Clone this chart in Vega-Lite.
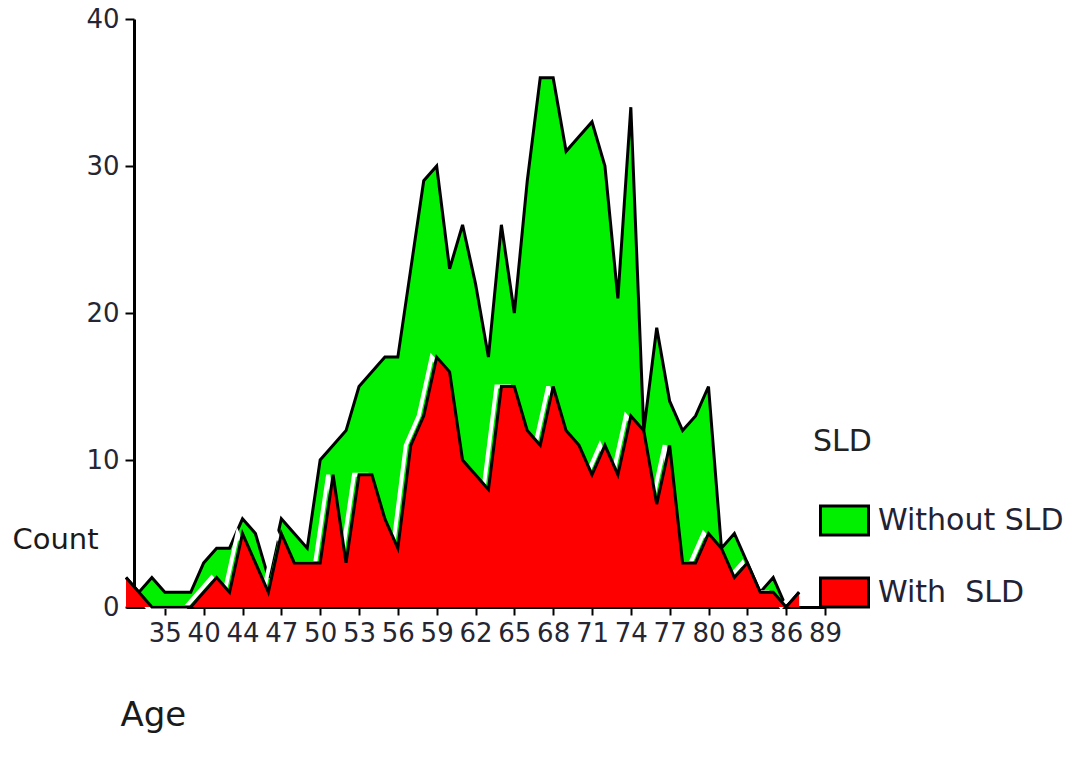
{
  "$schema": "https://vega.github.io/schema/vega-lite/v6.json",
  "autosize": {"type": "none"},
  "padding": {"left": 126, "top": 19, "right": 247, "bottom": 154},
  "width": 699,
  "height": 588,
  "background": "white",
  "config": {"view": {"stroke": null}, "font": "DejaVu Sans"},
  "data": {"values": [
    {"Age": 32, "SLD": "Without SLD", "Count": 2}, {"Age": 32, "SLD": "With SLD", "Count": 2},
    {"Age": 33, "SLD": "Without SLD", "Count": 1}, {"Age": 33, "SLD": "With SLD", "Count": 1},
    {"Age": 34, "SLD": "Without SLD", "Count": 2}, {"Age": 34, "SLD": "With SLD", "Count": 0},
    {"Age": 35, "SLD": "Without SLD", "Count": 1}, {"Age": 35, "SLD": "With SLD", "Count": 0},
    {"Age": 37, "SLD": "Without SLD", "Count": 1}, {"Age": 37, "SLD": "With SLD", "Count": 0},
    {"Age": 38, "SLD": "Without SLD", "Count": 1}, {"Age": 38, "SLD": "With SLD", "Count": 0},
    {"Age": 40, "SLD": "Without SLD", "Count": 3}, {"Age": 40, "SLD": "With SLD", "Count": 1},
    {"Age": 41, "SLD": "Without SLD", "Count": 4}, {"Age": 41, "SLD": "With SLD", "Count": 2},
    {"Age": 43, "SLD": "Without SLD", "Count": 4}, {"Age": 43, "SLD": "With SLD", "Count": 1},
    {"Age": 44, "SLD": "Without SLD", "Count": 6}, {"Age": 44, "SLD": "With SLD", "Count": 5},
    {"Age": 45, "SLD": "Without SLD", "Count": 5}, {"Age": 45, "SLD": "With SLD", "Count": 3},
    {"Age": 46, "SLD": "Without SLD", "Count": 2}, {"Age": 46, "SLD": "With SLD", "Count": 1},
    {"Age": 47, "SLD": "Without SLD", "Count": 6}, {"Age": 47, "SLD": "With SLD", "Count": 5},
    {"Age": 48, "SLD": "Without SLD", "Count": 5}, {"Age": 48, "SLD": "With SLD", "Count": 3},
    {"Age": 49, "SLD": "Without SLD", "Count": 4}, {"Age": 49, "SLD": "With SLD", "Count": 3},
    {"Age": 50, "SLD": "Without SLD", "Count": 10}, {"Age": 50, "SLD": "With SLD", "Count": 3},
    {"Age": 51, "SLD": "Without SLD", "Count": 11}, {"Age": 51, "SLD": "With SLD", "Count": 9},
    {"Age": 52, "SLD": "Without SLD", "Count": 12}, {"Age": 52, "SLD": "With SLD", "Count": 3},
    {"Age": 53, "SLD": "Without SLD", "Count": 15}, {"Age": 53, "SLD": "With SLD", "Count": 9},
    {"Age": 54, "SLD": "Without SLD", "Count": 16}, {"Age": 54, "SLD": "With SLD", "Count": 9},
    {"Age": 55, "SLD": "Without SLD", "Count": 17}, {"Age": 55, "SLD": "With SLD", "Count": 6},
    {"Age": 56, "SLD": "Without SLD", "Count": 17}, {"Age": 56, "SLD": "With SLD", "Count": 4},
    {"Age": 57, "SLD": "Without SLD", "Count": 23}, {"Age": 57, "SLD": "With SLD", "Count": 11},
    {"Age": 58, "SLD": "Without SLD", "Count": 29}, {"Age": 58, "SLD": "With SLD", "Count": 13},
    {"Age": 59, "SLD": "Without SLD", "Count": 30}, {"Age": 59, "SLD": "With SLD", "Count": 17},
    {"Age": 60, "SLD": "Without SLD", "Count": 23}, {"Age": 60, "SLD": "With SLD", "Count": 16},
    {"Age": 61, "SLD": "Without SLD", "Count": 26}, {"Age": 61, "SLD": "With SLD", "Count": 10},
    {"Age": 62, "SLD": "Without SLD", "Count": 22}, {"Age": 62, "SLD": "With SLD", "Count": 9},
    {"Age": 63, "SLD": "Without SLD", "Count": 17}, {"Age": 63, "SLD": "With SLD", "Count": 8},
    {"Age": 64, "SLD": "Without SLD", "Count": 26}, {"Age": 64, "SLD": "With SLD", "Count": 15},
    {"Age": 65, "SLD": "Without SLD", "Count": 20}, {"Age": 65, "SLD": "With SLD", "Count": 15},
    {"Age": 66, "SLD": "Without SLD", "Count": 29}, {"Age": 66, "SLD": "With SLD", "Count": 12},
    {"Age": 67, "SLD": "Without SLD", "Count": 36}, {"Age": 67, "SLD": "With SLD", "Count": 11},
    {"Age": 68, "SLD": "Without SLD", "Count": 36}, {"Age": 68, "SLD": "With SLD", "Count": 15},
    {"Age": 69, "SLD": "Without SLD", "Count": 31}, {"Age": 69, "SLD": "With SLD", "Count": 12},
    {"Age": 70, "SLD": "Without SLD", "Count": 32}, {"Age": 70, "SLD": "With SLD", "Count": 11},
    {"Age": 71, "SLD": "Without SLD", "Count": 33}, {"Age": 71, "SLD": "With SLD", "Count": 9},
    {"Age": 72, "SLD": "Without SLD", "Count": 30}, {"Age": 72, "SLD": "With SLD", "Count": 11},
    {"Age": 73, "SLD": "Without SLD", "Count": 21}, {"Age": 73, "SLD": "With SLD", "Count": 9},
    {"Age": 74, "SLD": "Without SLD", "Count": 34}, {"Age": 74, "SLD": "With SLD", "Count": 13},
    {"Age": 75, "SLD": "Without SLD", "Count": 12}, {"Age": 75, "SLD": "With SLD", "Count": 12},
    {"Age": 76, "SLD": "Without SLD", "Count": 19}, {"Age": 76, "SLD": "With SLD", "Count": 7},
    {"Age": 77, "SLD": "Without SLD", "Count": 14}, {"Age": 77, "SLD": "With SLD", "Count": 11},
    {"Age": 78, "SLD": "Without SLD", "Count": 12}, {"Age": 78, "SLD": "With SLD", "Count": 3},
    {"Age": 79, "SLD": "Without SLD", "Count": 13}, {"Age": 79, "SLD": "With SLD", "Count": 3},
    {"Age": 80, "SLD": "Without SLD", "Count": 15}, {"Age": 80, "SLD": "With SLD", "Count": 5},
    {"Age": 81, "SLD": "Without SLD", "Count": 4}, {"Age": 81, "SLD": "With SLD", "Count": 4},
    {"Age": 82, "SLD": "Without SLD", "Count": 5}, {"Age": 82, "SLD": "With SLD", "Count": 2},
    {"Age": 83, "SLD": "Without SLD", "Count": 3}, {"Age": 83, "SLD": "With SLD", "Count": 3},
    {"Age": 84, "SLD": "Without SLD", "Count": 1}, {"Age": 84, "SLD": "With SLD", "Count": 1},
    {"Age": 85, "SLD": "Without SLD", "Count": 2}, {"Age": 85, "SLD": "With SLD", "Count": 1},
    {"Age": 86, "SLD": "Without SLD", "Count": 0}, {"Age": 86, "SLD": "With SLD", "Count": 0},
    {"Age": 87, "SLD": "Without SLD", "Count": 1}, {"Age": 87, "SLD": "With SLD", "Count": 1}
  ]},
  "encoding": {
    "x": {
      "field": "Age", "type": "ordinal",
      "scale": {"type": "point", "padding": 0, "domain": [32,33,34,35,37,38,40,41,43,44,45,46,47,48,49,50,51,52,53,54,55,56,57,58,59,60,61,62,63,64,65,66,67,68,69,70,71,72,73,74,75,76,77,78,79,80,81,82,83,84,85,86,87,88,89]},
      "axis": {
        "values": [35,40,44,47,50,53,56,59,62,65,68,71,74,77,80,83,86,89],
        "title": "Age", "titleFontSize": 34, "titleFontWeight": "normal", "titleColor": "#1a1a1a",
        "titleX": -6, "titleY": 118, "titleAlign": "left", "titleBaseline": "alphabetic",
        "labelAngle": 0, "labelFontSize": 26, "labelColor": "#262633", "labelOverlap": false, "labelFlush": false, "labelPadding": 5,
        "tickSize": 8, "tickWidth": 2, "tickColor": "black", "domainColor": "black", "domainWidth": 3, "grid": false
      }
    },
    "y": {
      "field": "Count", "type": "quantitative",
      "scale": {"domain": [0, 40], "nice": false},
      "axis": {
        "values": [0, 10, 20, 30, 40],
        "title": "Count", "titleAngle": 0, "titleAlign": "left", "titleBaseline": "alphabetic",
        "titleX": -122, "titleY": 529, "titleFontSize": 29, "titleFontWeight": "normal", "titleColor": "#1a1a1a",
        "offset": -8,
        "labelFontSize": 26, "labelColor": "#262633", "labelPadding": 6,
        "tickSize": 9, "tickWidth": 2, "tickColor": "black", "domainColor": "black", "domainWidth": 3, "grid": false
      }
    }
  },
  "layer": [
    {
      "transform": [{"filter": "datum.SLD == 'Without SLD'"}],
      "mark": {"type": "area", "opacity": 1, "interpolate": "linear"},
      "encoding": {
        "color": {
          "field": "SLD", "type": "nominal",
          "scale": {"domain": ["Without SLD", "With SLD"], "range": ["#00f000", "#ff0000"]},
          "legend": {
            "title": "SLD", "orient": "none", "legendX": 687, "legendY": 408, "padding": 0,
            "titleFontSize": 30, "titleFontWeight": "normal", "titleColor": "#222222", "titlePadding": 38,
            "labelFontSize": 30, "labelColor": "#222233", "labelOffset": 8, "labelLimit": 400,
            "labelExpr": "datum.label == 'With SLD' ? 'With\u00a0 SLD' : datum.label",
            "symbolType": "M-1,-0.6H1V0.6H-1Z", "symbolSize": 2304, "symbolStrokeColor": "black",
            "symbolStrokeWidth": 3, "symbolOffset": 6, "symbolOpacity": 1, "rowPadding": 26
          }
        }
      }
    },
    {
      "transform": [{"filter": "datum.SLD == 'Without SLD'"}],
      "mark": {"type": "line", "color": "black", "strokeWidth": 3, "interpolate": "linear"},
      "encoding": {}
    },
    {
      "transform": [{"filter": "datum.SLD == 'With SLD'"}],
      "mark": {"type": "line", "color": "white", "strokeWidth": 4, "xOffset": -5, "interpolate": "linear"},
      "encoding": {}
    },
    {
      "transform": [{"filter": "datum.SLD == 'With SLD'"}],
      "mark": {"type": "area", "opacity": 1, "interpolate": "linear"},
      "encoding": {
        "color": {
          "field": "SLD", "type": "nominal",
          "scale": {"domain": ["Without SLD", "With SLD"], "range": ["#00f000", "#ff0000"]},
          "legend": {
            "title": "SLD", "orient": "none", "legendX": 687, "legendY": 408, "padding": 0,
            "titleFontSize": 30, "titleFontWeight": "normal", "titleColor": "#222222", "titlePadding": 38,
            "labelFontSize": 30, "labelColor": "#222233", "labelOffset": 8, "labelLimit": 400,
            "labelExpr": "datum.label == 'With SLD' ? 'With\u00a0 SLD' : datum.label",
            "symbolType": "M-1,-0.6H1V0.6H-1Z", "symbolSize": 2304, "symbolStrokeColor": "black",
            "symbolStrokeWidth": 3, "symbolOffset": 6, "symbolOpacity": 1, "rowPadding": 26
          }
        }
      }
    },
    {
      "transform": [{"filter": "datum.SLD == 'With SLD'"}],
      "mark": {"type": "line", "color": "black", "strokeWidth": 3, "interpolate": "linear"},
      "encoding": {}
    }
  ]
}
